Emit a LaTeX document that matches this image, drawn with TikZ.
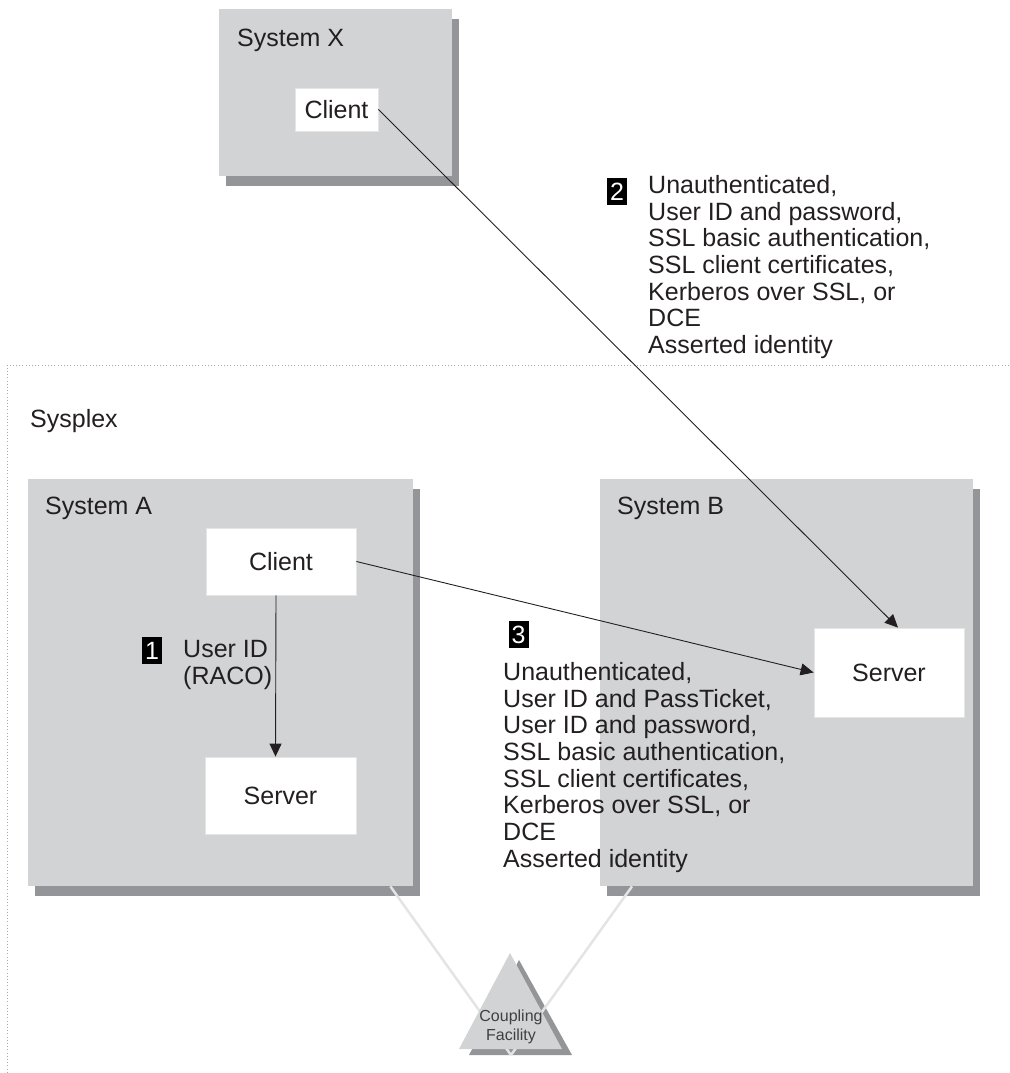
\documentclass[tikz,border=0pt]{standalone}
\usepackage{fontspec}
\setmainfont{Liberation Sans}
\usetikzlibrary{arrows.meta,shadows}
\definecolor{boxgray}{HTML}{D1D3D4}
\definecolor{shadegray}{HTML}{939598}
\definecolor{linkgray}{HTML}{E3E4E5}
\definecolor{dotgray}{HTML}{A7A9AC}
\definecolor{ink}{HTML}{231F20}
\newcommand\lblfont{\fontsize{25}{26.7}\selectfont}
\newcommand\smallfont{\fontsize{16}{19}\selectfont}
\begin{document}
\begin{tikzpicture}[x=1pt,y=-1pt,
  system/.style={fill=boxgray, draw=none, anchor=north west, inner sep=0,
    general shadow={fill=shadegray, shadow xshift=7pt, shadow yshift=-10pt}},
  host/.style={fill=white, draw=black!10, line width=0.8pt, inner sep=0,
    font=\lblfont, text=ink},
  tag/.style={fill=black, text=white, minimum width=20pt, minimum height=27pt,
    inner sep=0, font=\lblfont},
  flow/.style={draw=ink, line width=0.9pt, -{Triangle[length=13pt,width=12pt]}},
  note/.style={anchor=north west, inner sep=0, align=left, text=ink, font=\lblfont},
  title/.style={anchor=base west, inner sep=0, text=ink, font=\lblfont},
  link/.style={draw=linkgray, line width=2.5pt}]
\useasboundingbox (0,0) rectangle (1009,1073);

% sysplex boundary
\draw[dotgray, line width=1pt, dash pattern=on 1pt off 2.2pt]
  (1009,365) -- (7,365) -- (7,1073);
\node[title] (sysplex) at (30,427) {Sysplex};

% coupling facility shadow (under the links)
\fill[shadegray] (519,960) -- (469,1055) -- (572,1055) -- cycle;

% systems
\node[system, minimum width=233pt, minimum height=167pt] (sysX) at (219,9) {};
\node[system, minimum width=385pt, minimum height=407pt] (sysA) at (28,479) {};
\node[system, minimum width=373pt, minimum height=407pt] (sysB) at (600,479) {};

% links to the coupling facility
\coordinate (hub) at (511,1055);
\coordinate (la) at ([xshift=-23pt]sysA.south east);
\coordinate (lb) at ([xshift=32pt]sysB.south west);
\draw[link] (la) -- (hub);
\draw[link] (lb) -- (hub);

% coupling facility
\fill[boxgray] (510,953) -- (459,1049) -- (562,1049) -- cycle;
\node[font=\smallfont, align=center, text=black!75, inner sep=0] (cf) at (511,1027) {Coupling\\Facility};

% system titles
\node[title] (tX) at (237,47) {System X};
\node[title] (tA) at (45,514) {System A};
\node[title] (tB) at (617,514) {System B};

% clients and servers
\node[host, minimum width=83pt, minimum height=43pt] (cX) at (336.5,109.5) {Client};
\node[host, minimum width=150pt, minimum height=67pt] (cA) at (281,561.5) {Client};
\node[host, minimum width=151pt, minimum height=77pt] (sA) at (280.5,795.5) {Server};
\node[host, minimum width=150pt, minimum height=89pt] (sB) at (889,672.5) {Server};

% connections
\draw[flow] (cX.east) -- ([xshift=9pt]sB.north);
\draw[flow] ([xshift=-5pt]cA.south) -- ([xshift=-5pt]sA.north);
\draw[flow] (cA.east) -- (sB.west);

% numbered notes
\node[tag] (n1) at (152,650.5) {1};
\node[note] (l1) at (183,640) {User ID\\(RACO)};

\node[tag] (n2) at (617,191.5) {2};
\node[note] (l2) at (648,175) {Unauthenticated,\\User ID and password,\\SSL basic authentication,\\SSL client certificates,\\Kerberos over SSL, or\\DCE\\Asserted identity};

\node[tag] (n3) at (518.5,634.5) {3};
\node[note] (l3) at (503,662) {Unauthenticated,\\User ID and PassTicket,\\User ID and password,\\SSL basic authentication,\\SSL client certificates,\\Kerberos over SSL, or\\DCE\\Asserted identity};
\end{tikzpicture}
\end{document}
